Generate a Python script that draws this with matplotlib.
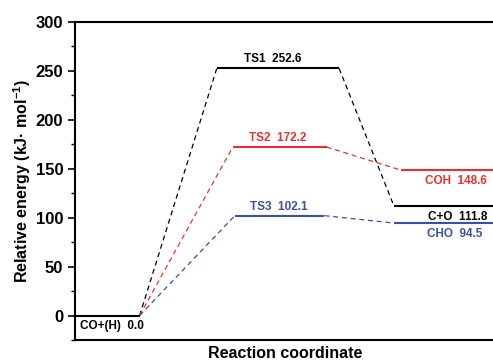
import matplotlib
matplotlib.use('Agg')
import matplotlib.pyplot as plt
from matplotlib.ticker import MultipleLocator

plt.rcParams['font.family'] = ['Liberation Sans', 'DejaVu Sans']
plt.rcParams['mathtext.fontset'] = 'custom'
plt.rcParams['mathtext.bf'] = 'Liberation Sans:bold'
plt.rcParams['mathtext.rm'] = 'Liberation Sans:bold'

# energy levels: name, energy (kJ/mol), x start, x end, colour
names = ['CO+(H)', 'TS1', 'TS2', 'TS3', 'C+O', 'COH', 'CHO']
energies = [0.0, 252.6, 172.2, 102.1, 111.8, 148.6, 94.5]
x_start = [0.0, 2.04, 2.27, 2.30, 4.59, 4.69, 4.59]
x_end = [0.93, 3.80, 3.62, 3.59, 6.2, 6.2, 6.2]
colors = ['black', 'black', '#e8312f', '#3a4fa8', 'black', '#e8312f', '#3a4fa8']

# paths: initial -> TS -> final (indices into the lists above)
paths = [(0, 1, 4), (0, 2, 5), (0, 3, 6)]

# label positions (x centre) and side of the level
label_x = [0.53, 2.84, 2.91, 2.93, 5.5, 5.48, 5.46]
label_above = [False, True, True, True, False, False, False]

fig = plt.figure(figsize=(4.93, 3.64), dpi=100)
ax = fig.add_axes([75/493, 24/364, 1.005 - 75/493, (340-22)/364])

for i in range(len(names)):
    ax.plot([x_start[i], x_end[i]], [energies[i], energies[i]], color=colors[i], lw=1.5,
            solid_capstyle='butt')

for a, b, c in paths:
    col = colors[c]
    ax.plot([x_end[a], x_start[b]], [energies[a], energies[b]], ls=(0, (4, 3)), color=col, lw=0.9)
    ax.plot([x_end[b], x_start[c]], [energies[b], energies[c]], ls=(0, (4, 3)), color=col, lw=0.9)

for i in range(len(names)):
    txt = names[i] + '  ' + '%.1f' % energies[i]
    if label_above[i]:
        ax.text(label_x[i], energies[i] + 3, txt, ha='center', va='bottom', fontsize=8.5,
                fontweight='bold', color=colors[i])
    else:
        ax.text(label_x[i], energies[i] - 5, txt, ha='center', va='top', fontsize=8.5,
                fontweight='bold', color=colors[i])

ax.set_xlim(0, 6.05)
ax.set_ylim(-25, 300)
ax.set_xticks([])
ax.yaxis.set_major_locator(MultipleLocator(50))
ax.yaxis.set_minor_locator(MultipleLocator(25))
ax.tick_params(axis='y', which='major', direction='out', length=5, width=1.2, labelsize=12)
ax.tick_params(axis='y', which='minor', direction='out', length=3, width=1.0)
for lab in ax.get_yticklabels():
    lab.set_fontweight('bold')
for s in ax.spines.values():
    s.set_linewidth(1.5)

ax.set_ylabel('Relative energy (kJ\u00b7 mol$^{\\mathbf{-1}}$)', fontsize=11.5, fontweight='bold', labelpad=2)
ax.set_xlabel('Reaction coordinate', fontsize=11.5, fontweight='bold', labelpad=4)

fig.savefig('out.png', dpi=100)
